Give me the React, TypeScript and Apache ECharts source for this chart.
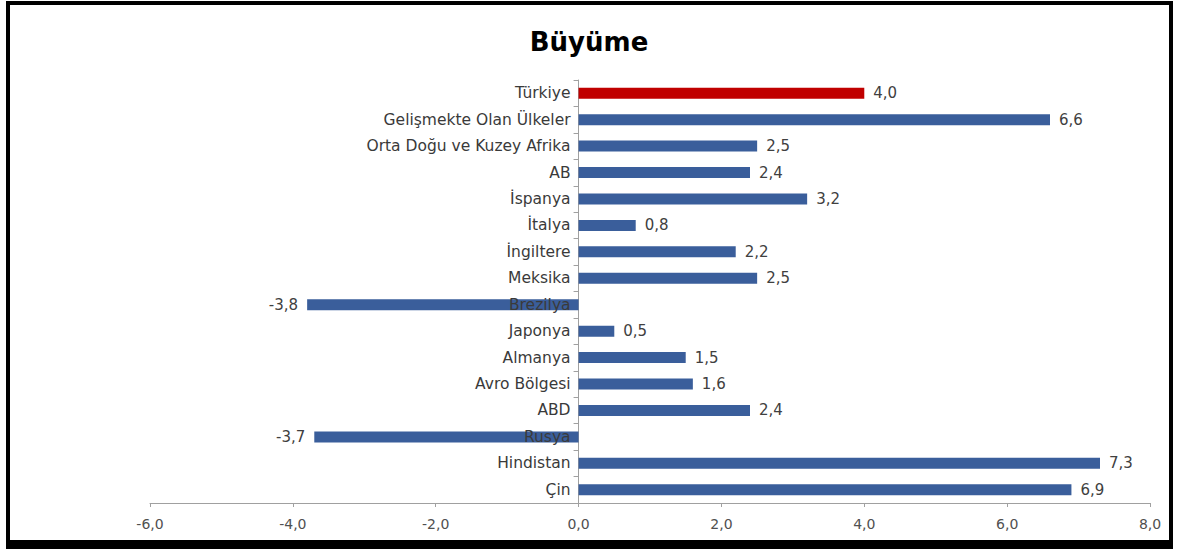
import React, { useEffect, useRef } from "react";
import * as echarts from "echarts";

const categories = [
  "Türkiye",
  "Gelişmekte Olan Ülkeler",
  "Orta Doğu ve Kuzey Afrika",
  "AB",
  "İspanya",
  "İtalya",
  "İngiltere",
  "Meksika",
  "Brezilya",
  "Japonya",
  "Almanya",
  "Avro Bölgesi",
  "ABD",
  "Rusya",
  "Hindistan",
  "Çin",
];
const values = [4.0, 6.6, 2.5, 2.4, 3.2, 0.8, 2.2, 2.5, -3.8, 0.5, 1.5, 1.6, 2.4, -3.7, 7.3, 6.9];
const highlighted = ["Türkiye"];
const title = "Büyüme";

const fmt = (v: number) => v.toFixed(1).replace(".", ",");
const FONT = "'DejaVu Sans', sans-serif";

export default function App() {
  const ref = useRef<HTMLDivElement>(null);
  useEffect(() => {
    if (!ref.current) return;
    const chart = echarts.init(ref.current, null, { renderer: "svg" });
    chart.setOption({
      animation: false,
      backgroundColor: "#ffffff",
      title: {
        text: title,
        left: "center",
        top: 24,
        textStyle: { fontFamily: FONT, fontWeight: "bold", fontSize: 26, color: "#000" },
      },
      grid: { left: 150, right: 28, top: 80, bottom: 46, containLabel: false, outerBoundsMode: "none" },
      xAxis: {
        type: "value",
        min: -6,
        max: 8,
        interval: 2,
        splitLine: { show: false },
        axisLine: { show: true, lineStyle: { color: "#a0a0a0", width: 1 } },
        axisTick: { show: true, length: 4, lineStyle: { color: "#a0a0a0" } },
        axisLabel: {
          formatter: (v: number) => fmt(v),
          fontFamily: FONT,
          fontSize: 14,
          color: "#505050",
          margin: 14,
        },
      },
      yAxis: {
        type: "category",
        data: categories,
        inverse: true,
        axisLine: { show: true, onZero: true, lineStyle: { color: "#a0a0a0", width: 1 } },
        axisTick: { show: true, length: 5, inside: false, lineStyle: { color: "#a0a0a0" } },
        axisLabel: { show: false },
      },
      series: [
        {
          type: "bar",
          barWidth: 11,
          z: 2,
          data: values.map((v, i) => ({
            value: v,
            itemStyle: { color: highlighted.includes(categories[i]) ? "#c00000" : "#3a5e9b" },
            label: { position: v < 0 ? "left" : "right" },
          })),
          label: {
            show: true,
            distance: 9,
            formatter: (p: any) => fmt(p.value),
            fontFamily: FONT,
            fontSize: 15,
            color: "#404040",
          },
        },
        {
          type: "scatter",
          symbolSize: 0,
          z: 5,
          silent: true,
          itemStyle: { opacity: 1 },
          data: categories.map((c) => [0, c]),
          label: {
            show: true,
            position: "left",
            distance: 8,
            formatter: (p: any) => categories[p.dataIndex],
            fontFamily: FONT,
            fontSize: 15.5,
            color: "#3a3a3a",
          },
        },
      ],
      graphic: [
        {
          type: "rect",
          shape: { x: 8, y: 3, width: 1163, height: 539 },
          style: { fill: "none", stroke: "#000", lineWidth: 4 },
          z: 100,
        },
        {
          type: "rect",
          shape: { x: 6, y: 540, width: 1167, height: 9 },
          style: { fill: "#000" },
          z: 100,
        },
      ],
    });
    return () => chart.dispose();
  }, []);
  return (
    <div
      ref={ref}
      style={{ position: "absolute", left: 0, top: 0, width: 1178, height: 549 }}
    />
  );
}
